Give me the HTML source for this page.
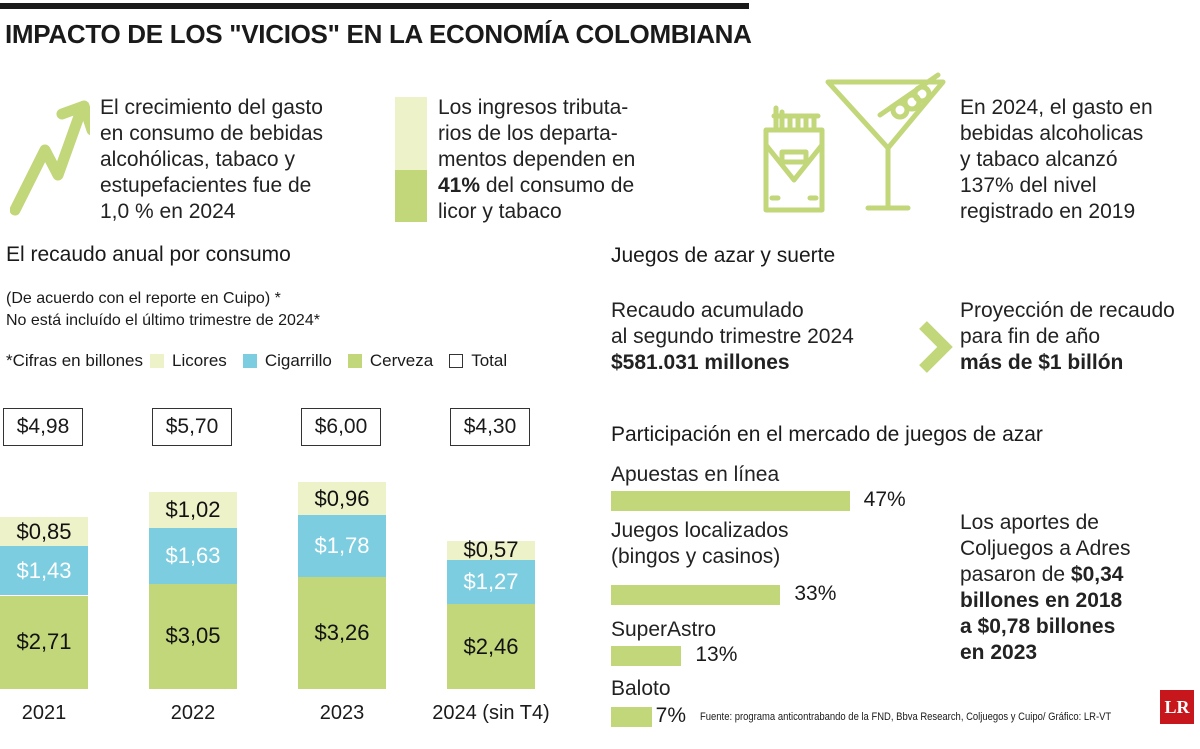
<!DOCTYPE html>
<html><head><meta charset="utf-8"><style>
*{margin:0;padding:0;box-sizing:border-box}
body{width:1200px;height:749px;background:#fff;font-family:"Liberation Sans","DejaVu Sans",sans-serif;color:#1a1a1a;position:relative;overflow:hidden}
.t{position:absolute;white-space:nowrap}
.big{font-size:21px;line-height:26px;color:#222}
.sm{font-size:16px;line-height:22px}
.box{position:absolute;border:1.5px solid #333;font-size:21px;text-align:center;line-height:36px;height:38px;width:80px}
</style></head><body>
<div style="position:absolute;left:0;top:3px;width:749px;height:6px;background:#1a1a1a"></div>
<div class="t" style="left:5px;top:19px;font-size:26px;font-weight:bold;letter-spacing:-0.3px">IMPACTO DE LOS "VICIOS" EN LA ECONOMÍA COLOMBIANA</div>

<svg style="position:absolute;left:10px;top:100px" width="80" height="120"><polyline points="5,110 35,50 48,75 72,8" fill="none" stroke="#c2d67a" stroke-width="11" stroke-linecap="round" stroke-linejoin="round"/><polyline points="52,14 74,6 82,30" fill="none" stroke="#c2d67a" stroke-width="11" stroke-linecap="round" stroke-linejoin="round"/></svg>
<div class="t big" style="left:100px;top:95px">El crecimiento del gasto<br>en consumo de bebidas<br>alcohólicas, tabaco y<br>estupefacientes fue de<br>1,0 % en 2024</div>

<div style="position:absolute;left:395px;top:97px;width:32px;height:73px;background:#eef2c9"></div>
<div style="position:absolute;left:395px;top:170px;width:32px;height:52px;background:#c2d67a"></div>
<div class="t big" style="left:438px;top:95px">Los ingresos tributa-<br>rios de los departa-<br>mentos dependen en<br><b>41%</b> del consumo de<br>licor y tabaco</div>

<svg style="position:absolute;left:760px;top:70px" width="190" height="145" fill="none" stroke="#c2d67a" stroke-width="5" stroke-linecap="round" stroke-linejoin="round">
<rect x="6" y="60" width="56" height="80"/><polyline points="6,75 34,110 62,75"/><rect x="22" y="82" width="24" height="10"/>
<path d="M16 60 V38 M22 60 V42 M30 60 V48 M38 60 V48 M46 60 V48 M54 60 V48 M14 46 H58"/>
<line x1="12" y1="128" x2="18" y2="128"/><line x1="50" y1="128" x2="56" y2="128"/>
<polygon points="68,12 183,12 128,78"/><line x1="128" y1="78" x2="128" y2="135"/><line x1="108" y1="138" x2="148" y2="138"/>
<line x1="120" y1="45" x2="178" y2="5"/><circle cx="140" cy="40" r="7"/><circle cx="152" cy="32" r="7"/><circle cx="162" cy="24" r="7"/>
</svg>
<div class="t big" style="left:960px;top:95px">En 2024, el gasto en<br>bebidas alcoholicas<br>y tabaco alcanzó<br>137% del nivel<br>registrado en 2019</div>

<div class="t" style="left:6px;top:243px;font-size:21px">El recaudo anual por consumo</div>
<div class="t sm" style="left:6px;top:288px">(De acuerdo con el reporte en Cuipo) *<br>No está incluído el último trimestre de 2024*</div>
<div class="t sm" style="left:6px;top:350px;font-size:17px">*Cifras en billones</div>
<div style="position:absolute;left:150px;top:350px;font-size:17px;line-height:22px;display:flex;align-items:center;gap:8px">
<span style="display:inline-block;width:14px;height:14px;background:#eef2c9"></span><span>Licores</span>
<span style="display:inline-block;width:14px;height:14px;background:#7ccde0;margin-left:8px"></span><span>Cigarrillo</span>
<span style="display:inline-block;width:14px;height:14px;background:#c2d67a;margin-left:8px"></span><span>Cerveza</span>
<span style="display:inline-block;width:14px;height:14px;border:1px solid #333;margin-left:8px"></span><span>Total</span>
</div>
<div id="bars"></div>

<div class="t" style="left:611px;top:244px;font-size:21px">Juegos de azar y suerte</div>
<div class="t big" style="left:611px;top:298px">Recaudo acumulado<br>al segundo trimestre 2024<br><b>$581.031 millones</b></div>
<svg style="position:absolute;left:917px;top:320px" width="36" height="54"><polyline points="6,5 28,27 6,49" fill="none" stroke="#c2d67a" stroke-width="11"/></svg>
<div class="t big" style="left:960px;top:298px">Proyección de recaudo<br>para fin de año<br><b>más de $1 billón</b></div>
<div class="t" style="left:611px;top:423px;font-size:21px">Participación en el mercado de juegos de azar</div>
<div id="hbars"></div>
<div class="t big" style="left:960px;top:510px">Los aportes de<br>Coljuegos a Adres<br>pasaron de <b>$0,34</b><br><b>billones en 2018</b><br><b>a $0,78 billones</b><br><b>en 2023</b></div>
<div class="t" style="left:700px;top:711px;font-size:11px;transform:scaleX(0.86);transform-origin:left top">Fuente: programa anticontrabando de la FND, Bbva Research, Coljuegos y Cuipo/ Gráfico: LR-VT</div>
<div style="position:absolute;left:1160px;top:690px;width:34px;height:34px;background:#c8161d;color:#fff;font-family:'Liberation Serif',serif;font-weight:bold;font-size:18px;text-align:center;line-height:34px">LR</div>

<script>
const years=["2021","2022","2023","2024 (sin T4)"];
const cerveza=[2.71,3.05,3.26,2.46];
const cigarrillo=[1.43,1.63,1.78,1.27];
const licores=[0.85,1.02,0.96,0.57];
const totals=["$4,98","$5,70","$6,00","$4,30"];
const games=["Apuestas en línea","Juegos localizados<br>(bingos y casinos)","SuperAstro","Baloto"];
const shares=[47,33,13,7];

const base=689, k=34.5, x0=0, step=149, bw=88;
const yv=v=>v*k;
const fmt=v=>"$"+v.toFixed(2).replace(".",",");
const c=document.getElementById('bars');
function seg(x,top,h,col,txt,tc,name){
  const d=document.createElement('div');
  
  
  d.style.cssText=`position:absolute;left:${x}px;top:${top}px;width:${bw}px;height:${h}px;background:${col};color:${tc};font-size:22px;display:flex;align-items:center;justify-content:center`;
  d.textContent=txt;c.appendChild(d);
}
years.forEach((y,i)=>{
  const x=x0+i*step;
  let t=base;
  const h1=yv(cerveza[i]);t-=h1;seg(x,t,h1,'#c2d67a',fmt(cerveza[i]),'#111','bar-cerveza');
  const h2=yv(cigarrillo[i]);t-=h2;seg(x,t,h2,'#7ccde0',fmt(cigarrillo[i]),'#fff','bar-cigarrillo');
  const h3=yv(licores[i]);t-=h3;seg(x,t,h3,'#eef2c9',fmt(licores[i]),'#111','bar-licores');
  const b=document.createElement('div');
  
  
  b.className='box';b.style.left=(x+3)+'px';b.style.top='408px';b.textContent=totals[i];c.appendChild(b);
  const l=document.createElement('div');
  
  
  l.className='t';l.style.cssText=`left:${x-30}px;top:702px;width:${bw+60}px;text-align:center;font-size:20px`;l.textContent=y;c.appendChild(l);
});
const h=document.getElementById('hbars');
const hx=611,hk=4.95,h0=6;
const labTop=[462,518,617,676], barTop=[491,585,646,707];
games.forEach((g,i)=>{
  const l=document.createElement('div');
  
  
  l.className='t big';l.style.cssText=`left:611px;top:${labTop[i]}px;font-size:21px`;l.innerHTML=g;h.appendChild(l);
  const w=h0+shares[i]*hk;
  const b=document.createElement('div');
  
  
  b.style.cssText=`position:absolute;left:${hx}px;top:${barTop[i]}px;width:${w}px;height:20px;background:#c2d67a`;h.appendChild(b);
  const v=document.createElement('div');
  
  
  v.className='t';v.style.cssText=`left:${hx+w+(i==3?4:14)}px;top:${barTop[i]-3}px;font-size:21px`;v.textContent=shares[i]+'%';h.appendChild(v);
});
</script>
</body></html>
